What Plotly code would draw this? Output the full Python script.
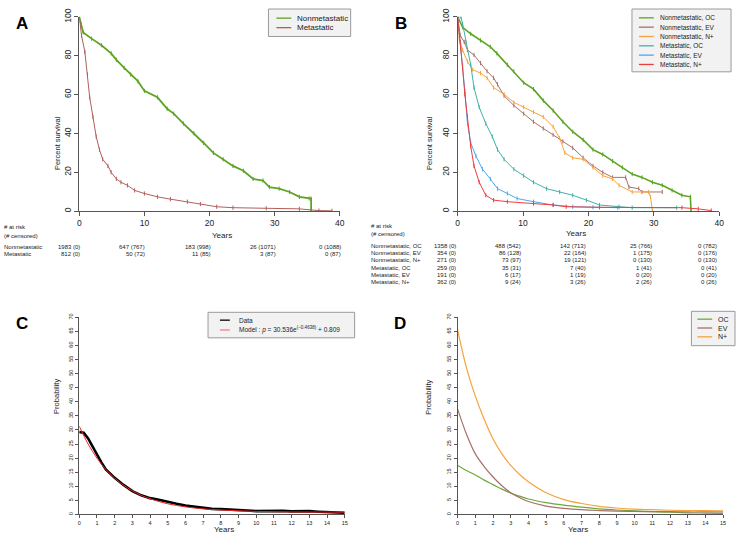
import plotly.graph_objects as go

W, H = 740, 542
FONT = "Arial, Liberation Sans, sans-serif"

# ---- panel A: Kaplan-Meier, overall ----
a_years_nm = [0, 0.35, 0.6, 1.9, 3.4, 4.9, 5.7, 6.9, 7.9, 9.0, 10.0, 12.0, 13.5, 14.5, 16.0,
              17.6, 19.1, 20.6, 22.1, 23.6, 25.2, 26.7, 28.2, 29.2, 30.7, 32.3, 33.8, 35.3,
              35.6, 35.6]
a_surv_nm = [100, 95.8, 92, 88.8, 85.4, 81.2, 77.9, 73.7, 70.3, 66.9, 61.9, 58.6, 52.7, 50.2,
             45.1, 40.1, 35.1, 30.0, 26.7, 23.3, 20.8, 16.6, 15.8, 12.4, 11.6, 9.9, 7.4, 6.5,
             6.5, 0]
a_years_m = [0, 0.35, 0.86, 1.27, 1.6, 2.1, 2.6, 3.1, 3.6, 4.4, 4.9, 5.7, 6.4, 7.4, 8.5, 10,
             12, 14, 16.6, 18.6, 21.1, 23.6, 28.7, 33.8, 36.8, 38.8]
a_surv_m = [100, 90.4, 82, 70.3, 58.6, 48.5, 38.4, 31.7, 26.7, 23.3, 20, 16.6, 14.9, 13.3,
            10.7, 9.1, 7.4, 6.2, 4.9, 3.7, 2.3, 1.8, 1.5, 1.2, 0.3, 0.2]
a_names = ["Nonmetastatic", "Metastatic"]
a_colors = ["#5da423", "#b0605a"]
a_risk = [["1983 (0)", "647 (767)", "183 (998)", "26 (1071)", "0 (1088)"],
          ["812 (0)", "50 (72)", "11 (85)", "3 (87)", "0 (87)"]]

# ---- panel B: Kaplan-Meier by stage ----
b_names = ["Nonmetastatic, OC", "Nonmetastatic, EV", "Nonmetastatic, N+",
           "Metastatic, OC", "Metastatic, EV", "Metastatic, N+"]
b_years = [
    [0, 0.76, 2, 3.5, 5, 6, 7.6, 8.6, 10.1, 11.6, 13.1, 14.6, 16.1, 17.6, 19.2, 20.7, 22.2,
     23.7, 25.2, 26.7, 28.2, 29.8, 31.3, 32.8, 34.3, 35.6, 35.7],
    [0, 0.4, 1, 1.5, 2.5, 3.5, 4.5, 5.5, 6.1, 7.1, 8.6, 10.1, 11.6, 13.1, 14.6, 16.1, 17.6,
     19.2, 20.7, 22.2, 23.7, 25.7, 26.2, 27.7, 28.2, 31.3],
    [0, 0.25, 0.76, 1.5, 2.3, 3.5, 4.5, 5.5, 7.1, 8.6, 10.1, 11.6, 13.1, 14.6, 15.6, 16.4,
     17.6, 19.2, 20.7, 22.2, 23.7, 24.7, 26.7, 29.2, 29.5, 29.8],
    [0, 0.5, 0.76, 1.26, 2, 2.5, 3.3, 4.3, 5.3, 6.1, 7.1, 8.6, 10.1, 11.6, 13.6, 15.6, 17.6,
     19.7, 21.7, 24.7, 26.7, 33.5],
    [0, 0.5, 0.76, 1.1, 1.5, 2, 2.8, 3.8, 5, 6.1, 7.6, 9.1, 11.6, 14.6, 17.6, 20.7, 24.5],
    [0, 0.4, 0.76, 1.1, 1.5, 2, 2.5, 3.3, 4.3, 5.5, 7.6, 11.6, 14.6, 16.6, 21.7, 34.3, 36.8,
     38.8],
]
b_surv = [
    [100, 94.6, 91.3, 87.9, 84.6, 81.2, 75.3, 72, 66.1, 62.8, 56.9, 51.8, 46, 40.9, 36.7,
     31.7, 29.2, 25.8, 22.5, 19.1, 17.4, 14.9, 13.3, 10.7, 8.2, 7.4, 0],
    [100, 90.4, 87.1, 82.9, 80.4, 76.2, 72, 68.6, 65.3, 59.4, 54.4, 50.2, 46, 42.6, 39.3,
     35.9, 32.6, 27.5, 23.3, 20, 17.4, 17.4, 12.4, 11.6, 9.9, 9.9],
    [100, 88.8, 82.9, 77, 72.8, 71.1, 68.6, 63.6, 60.2, 56, 53.5, 51, 48.5, 43.5, 37.6, 30,
     27.5, 26.7, 22.5, 18.3, 16.6, 13.3, 9.9, 9.9, 7.4, 0],
    [100, 100, 96.3, 87, 75.3, 63.6, 53.5, 45.1, 38.4, 31.7, 26.7, 21.6, 18.3, 14.9, 11.6,
     9.9, 8.2, 5.7, 3.2, 2.3, 1.8, 1.8],
    [100, 83.7, 75.3, 61.9, 45.1, 35.1, 28.4, 21.6, 16.6, 11.6, 9.1, 6.5, 4.9, 3.2, 2.3, 2.0,
     1.8],
    [100, 87.1, 73.7, 60.2, 48.5, 33.4, 23.3, 14.9, 8.2, 5.7, 4.9, 4.0, 3.2, 2.3, 2.0, 1.8,
     1.2, 0.3],
]
b_risk = [["1358 (0)", "488 (542)", "142 (713)", "25 (766)", "0 (782)"],
          ["354 (0)", "86 (128)", "22 (164)", "1 (175)", "0 (176)"],
          ["271 (0)", "73 (97)", "19 (121)", "0 (130)", "0 (130)"],
          ["259 (0)", "35 (31)", "7 (40)", "1 (41)", "0 (41)"],
          ["191 (0)", "6 (17)", "1 (19)", "0 (20)", "0 (20)"],
          ["362 (0)", "9 (24)", "3 (26)", "2 (26)", "0 (26)"]]
b_colors = ["#5da423", "#a8706a", "#f7a23c", "#3fb2a8", "#4aa8f5", "#f03c3c"]

# ---- panel C: data vs exponential model ----
c_years_data = [0, 0.25, 0.5, 0.75, 1.0, 1.25, 1.5, 1.75, 2.0, 2.5, 3.0, 3.5, 4.0, 4.5, 5.0,
                5.5, 6.0, 6.5, 7.0, 7.5, 8.0, 8.5, 9.0, 9.5, 10, 10.5, 11, 11.5, 12, 12.5,
                13, 13.5, 14, 14.5, 15]
c_prob_data = [29.3, 29.0, 27.0, 24.0, 21.5, 18.5, 16.0, 14.5, 13.0, 10.5, 8.3, 6.8, 5.8,
               5.2, 4.4, 3.8, 3.2, 2.8, 2.4, 2.0, 1.9, 1.8, 1.6, 1.4, 1.2, 1.3, 1.3, 1.3,
               1.1, 1.2, 1.2, 1.0, 0.8, 0.8, 0.6]
c_years_model = [0, 0.5, 1, 1.5, 2, 2.5, 3, 3.5, 4, 4.5, 5, 5.5, 6, 6.5, 7, 8, 9, 10, 11,
                 12, 13, 14, 15]
c_prob_model = [31.3, 25.0, 20.0, 16.0, 12.9, 10.4, 8.4, 6.8, 5.6, 4.6, 3.8, 3.2, 2.7, 2.3,
                2.0, 1.6, 1.3, 1.1, 1.0, 0.9, 0.86, 0.84, 0.83]
c_names = ["Data", "Model : <i>p</i> = 30.536e<sup>(\u22120.4638)</sup> + 0.809"]

# ---- panel D: fitted models by stage ----
d_years = [0, 0.5, 1, 1.5, 2, 2.5, 3, 3.5, 4, 5, 6, 7, 8, 9, 10, 11, 12, 13, 14, 15]
d_oc = [17.4, 15.6, 14, 12.2, 10.6, 9.0, 7.6, 6.5, 5.5, 4.2, 3.3, 2.6, 2.0, 1.6, 1.3, 1.0,
        0.8, 0.6, 0.5, 0.4]
d_ev = [37.4, 28.5, 21.5, 17, 13.3, 10.2, 7.7, 6.0, 4.6, 3.0, 2.2, 1.7, 1.4, 1.2, 1.1, 1.0,
        1.0, 0.9, 0.9, 0.9]
d_np = [65.5, 52, 42, 33.8, 26.8, 21.5, 17.4, 14.2, 11.6, 7.7, 5.3, 3.9, 2.9, 2.3, 1.9,
        1.7, 1.5, 1.4, 1.4, 1.3]
d_names = ["OC", "EV", "N+"]
d_colors = ["#6aaa3a", "#a8706a", "#f7a23c"]


def px(x):
    return x / W


def py(y):
    return 1 - y / H


fig = go.Figure()
shapes = []
annots = []


def km(xa, ya, x, y, name, color, width=1.0):
    fig.add_trace(go.Scatter(
        x=x, y=y, name=name, xaxis=xa, yaxis=ya, mode="lines+markers",
        line=dict(color=color, width=width),
        marker=dict(symbol="line-ns-open", size=3, line=dict(color=color, width=1)),
        showlegend=False, hoverinfo="skip"))


def legend_box(x0, y0, x1, y1, rows, colors, row_y, lx0, lx1, tx, size):
    shapes.append(dict(type="rect", xref="paper", yref="paper", x0=px(x0), x1=px(x1),
                       y0=py(y1), y1=py(y0), fillcolor="#f2f2f2",
                       line=dict(color="#9a9a9a", width=1), layer="above"))
    for name, col, ry in zip(rows, colors, row_y):
        shapes.append(dict(type="line", xref="paper", yref="paper", x0=px(lx0), x1=px(lx1),
                           y0=py(ry), y1=py(ry), line=dict(color=col, width=1.3),
                           layer="above"))
        annots.append(dict(x=px(tx), y=py(ry), xref="paper", yref="paper", text=name,
                           showarrow=False, xanchor="left", yanchor="middle",
                           font=dict(size=size, color="#222", family=FONT)))


# panel A
km("x", "y", a_years_nm, a_surv_nm, a_names[0], a_colors[0], 1.8)
km("x", "y", a_years_m, a_surv_m, a_names[1], a_colors[1], 1.0)
# panel B
for i in range(6):
    km("x2", "y2", b_years[i], b_surv[i], b_names[i], b_colors[i], 1.6 if i == 0 else 1.0)
# panel C
fig.add_trace(go.Scatter(x=c_years_data, y=c_prob_data, xaxis="x3", yaxis="y3",
                         mode="lines", line=dict(color="black", width=2.6),
                         showlegend=False, hoverinfo="skip"))
fig.add_trace(go.Scatter(x=c_years_model, y=c_prob_model, xaxis="x3", yaxis="y3",
                         mode="lines", line=dict(color="#ee2222", width=1),
                         line_shape="spline", showlegend=False, hoverinfo="skip"))
# panel D
for vals, name, col in zip([d_oc, d_ev, d_np], d_names, d_colors):
    fig.add_trace(go.Scatter(x=d_years, y=vals, xaxis="x4", yaxis="y4", mode="lines",
                             line=dict(color=col, width=1.2, shape="spline"),
                             showlegend=False, hoverinfo="skip"))

ax = dict(showgrid=False, zeroline=False, showline=True, linecolor="#555", linewidth=1,
          ticks="outside", ticklen=4, tickcolor="#555", mirror=False)
big = dict(ax, tickfont=dict(size=8.5, family=FONT, color="#222"))
small = dict(ax, tickfont=dict(size=5.5, family=FONT, color="#222"), ticklen=3)

dom_ab_y = [py(206), py(8)]
dom_cd_y = [py(515), py(314)]
fig.update_layout(
    width=W, height=H, margin=dict(l=0, r=0, t=0, b=0),
    paper_bgcolor="white", plot_bgcolor="white", showlegend=False,
    xaxis=dict(big, domain=[px(78), px(341)], range=[0, 40], dtick=10, anchor="y"),
    yaxis=dict(big, domain=dom_ab_y, range=[0, 100], dtick=20, tickangle=-90, anchor="x"),
    xaxis2=dict(big, domain=[px(460), px(724)], range=[0, 40], dtick=10, anchor="y2"),
    yaxis2=dict(big, domain=dom_ab_y, range=[0, 100], dtick=20, tickangle=-90, anchor="x2"),
    xaxis3=dict(small, domain=[px(78), px(346)], range=[0, 15], dtick=1, anchor="y3"),
    yaxis3=dict(small, domain=dom_cd_y, range=[0, 70], dtick=5, tickangle=-90, anchor="x3"),
    xaxis4=dict(small, domain=[px(460), px(728)], range=[0, 15], dtick=1, anchor="y4"),
    yaxis4=dict(small, domain=dom_cd_y, range=[0, 70], dtick=5, tickangle=-90, anchor="x4"),
)

# panel letters
for letter, x, y in [("A", 20, 15), ("B", 403, 15), ("C", 20, 320), ("D", 402, 320)]:
    annots.append(dict(x=px(x), y=py(y), xref="paper", yref="paper", text="<b>%s</b>" % letter,
                       showarrow=False, xanchor="center", yanchor="middle",
                       font=dict(size=17, color="black", family=FONT)))

# axis titles
for text, x, y in [("Percent survival", 49, 107), ("Percent survival", 431, 107),
                   ("Probability", 49, 415), ("Probability", 431, 415)]:
    annots.append(dict(x=px(x), y=py(y), xref="paper", yref="paper", text=text,
                       textangle=-90, showarrow=False,
                       font=dict(size=7.5, color="#222", family=FONT)))
for x, y in [(210, 231), (592, 229), (212, 537), (594, 537)]:
    annots.append(dict(x=px(x), y=py(y), xref="paper", yref="paper", text="Years",
                       showarrow=False, font=dict(size=8, color="#222", family=FONT)))

# risk tables
tfont = dict(size=6, color="#222", family=FONT)
for text, y in [("# at risk", 222), ("(# censored)", 231)]:
    annots.append(dict(x=0, y=py(y), xref="paper", yref="paper", text=text, showarrow=False,
                       xanchor="left", font=tfont))
for text, y in [("# at risk", 221), ("(# censored)", 229)]:
    annots.append(dict(x=px(370), y=py(y), xref="paper", yref="paper", text=text,
                       showarrow=False, xanchor="left", font=tfont))
for row, name, y in zip(a_risk, a_names, [242, 249.3]):
    annots.append(dict(x=0, y=py(y), xref="paper", yref="paper", text=name, showarrow=False,
                       xanchor="left", font=tfont))
    for k, val in enumerate(row):
        annots.append(dict(x=k * 10, y=py(y), xref="x", yref="paper", text=val,
                           showarrow=False, xanchor="right", xshift=3, font=tfont))
for row, name, y in zip(b_risk, b_names, [241, 248.5, 256, 263.5, 271, 278]):
    annots.append(dict(x=px(370), y=py(y), xref="paper", yref="paper", text=name,
                       showarrow=False, xanchor="left", font=tfont))
    for k, val in enumerate(row):
        annots.append(dict(x=k * 10, y=py(y), xref="x2", yref="paper", text=val,
                           showarrow=False, xanchor="right", xshift=0, font=tfont))

# legends
legend_box(269, 0, 352, 28, a_names, a_colors, [9.3, 19], 277, 292, 296, 8)
legend_box(636, 0, 736, 64, b_names, b_colors, [9, 18.5, 28, 37.5, 47, 56.5],
           643, 658, 662, 6.5)
legend_box(208, 309, 356, 335, c_names, ["black", "#f08080"], [317, 327], 220, 230, 237, 6.5)
legend_box(696, 308, 740, 343, d_names, d_colors, [316, 325, 334], 702, 717, 721, 7)

fig.update_layout(shapes=shapes, annotations=annots)
fig.write_html("out.html", config={"displayModeBar": False},
               post_script="document.body.style.margin='0';")
